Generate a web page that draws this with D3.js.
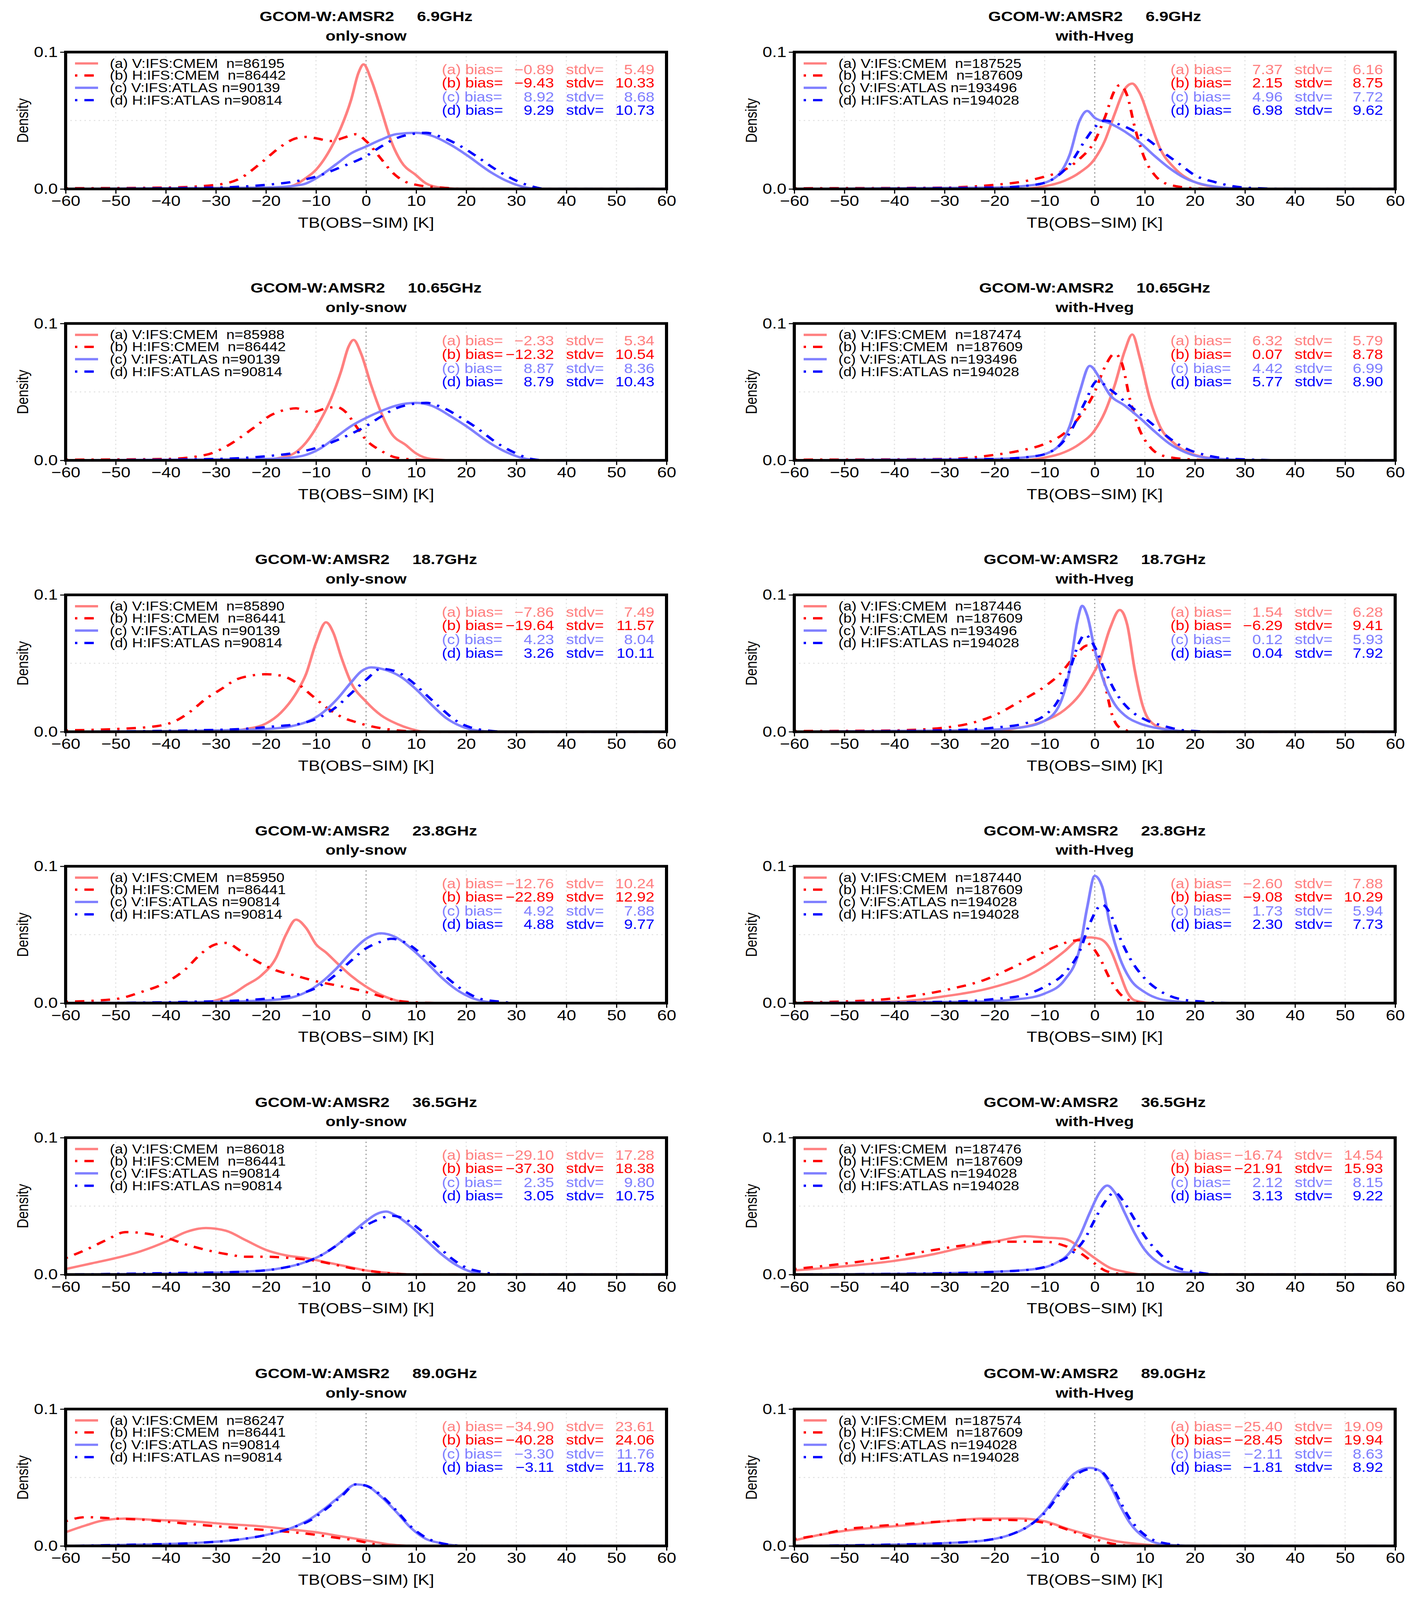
<!DOCTYPE html>
<html><head><meta charset="utf-8">
<script src="https://cdn.jsdelivr.net/npm/d3@7"></script>
<style>html,body{margin:0;padding:0;background:#fff;overflow:hidden}svg{display:block}</style>
</head><body>
<div id="chart"></div>
<script>
// Page size
var svgWidth = 3632, svgHeight = 4793;

// Panel geometry (full-size pixels)
var colLeft = [168, 2033];
var plotW = 1538, plotH = 410;
var rowTop0 = 156, rowStep = 813;

var freqs = ["6.9GHz", "10.65GHz", "18.7GHz", "23.8GHz", "36.5GHz", "89.0GHz"];
var surfaces = ["only-snow", "with-Hveg"];
var seriesNames = ["V:IFS:CMEM ", "H:IFS:CMEM ", "V:IFS:ATLAS", "H:IFS:ATLAS"];
var seriesColors = ["#ff8080", "#ff0000", "#8080ff", "#0000ff"];
var seriesDash = [null, "6,18,24,18", null, "6,18,24,18"];
var xTicks = [-60, -50, -40, -30, -20, -10, 0, 10, 20, 30, 40, 50, 60];

// sample sizes per panel [row][col][series]
var counts = [
  [["86195", "86442", "90139", "90814"], ["187525", "187609", "193496", "194028"]],
  [["85988", "86442", "90139", "90814"], ["187474", "187609", "193496", "194028"]],
  [["85890", "86441", "90139", "90814"], ["187446", "187609", "193496", "194028"]],
  [["85950", "86441", "90814", "90814"], ["187440", "187609", "194028", "194028"]],
  [["86018", "86441", "90814", "90814"], ["187476", "187609", "194028", "194028"]],
  [["86247", "86441", "90814", "90814"], ["187574", "187609", "194028", "194028"]]
];
var biases = [
  [["-0.89", "-9.43", "8.92", "9.29"], ["7.37", "2.15", "4.96", "6.98"]],
  [["-2.33", "-12.32", "8.87", "8.79"], ["6.32", "0.07", "4.42", "5.77"]],
  [["-7.86", "-19.64", "4.23", "3.26"], ["1.54", "-6.29", "0.12", "0.04"]],
  [["-12.76", "-22.89", "4.92", "4.88"], ["-2.60", "-9.08", "1.73", "2.30"]],
  [["-29.10", "-37.30", "2.35", "3.05"], ["-16.74", "-21.91", "2.12", "3.13"]],
  [["-34.90", "-40.28", "-3.30", "-3.11"], ["-25.40", "-28.45", "-2.11", "-1.81"]]
];
var stdvs = [
  [["5.49", "10.33", "8.68", "10.73"], ["6.16", "8.75", "7.72", "9.62"]],
  [["5.34", "10.54", "8.36", "10.43"], ["5.79", "8.78", "6.99", "8.90"]],
  [["7.49", "11.57", "8.04", "10.11"], ["6.28", "9.41", "5.93", "7.92"]],
  [["10.24", "12.92", "7.88", "9.77"], ["7.88", "10.29", "5.94", "7.73"]],
  [["17.28", "18.38", "9.80", "10.75"], ["14.54", "15.93", "8.15", "9.22"]],
  [["23.61", "24.06", "11.76", "11.78"], ["19.09", "19.94", "8.63", "8.92"]]
];

// density curves: [row][col][series] -> [[x, density], ...]
var curves = [
  [ // 6.9 GHz
    [
      [[-60,0],[-20,0],[-15,0.002],[-12,0.008],[-10,0.014],[-7,0.03],[-5,0.045],[-3,0.065],[-1.5,0.085],[-0.5,0.091],[1,0.08],[3,0.058],[5,0.035],[7,0.02],[10,0.01],[12,0.004],[15,0.001],[20,0],[60,0]],
      [[-60,0.0005],[-40,0.001],[-30,0.003],[-25,0.008],[-22,0.016],[-20,0.022],[-17,0.031],[-14,0.037],[-12,0.038],[-10,0.037],[-7,0.035],[-4,0.038],[-2,0.04],[0,0.035],[3,0.022],[5,0.013],[8,0.005],[10,0.003],[15,0.001],[20,0],[60,0]],
      [[-60,0],[-20,0.001],[-15,0.002],[-12,0.004],[-9,0.01],[-6,0.018],[-3,0.026],[0,0.031],[3,0.036],[6,0.04],[10,0.041],[13,0.039],[17,0.032],[20,0.025],[25,0.012],[28,0.006],[32,0.001],[35,0],[60,0]],
      [[-60,0],[-30,0.001],[-20,0.003],[-15,0.005],[-10,0.009],[-5,0.016],[0,0.024],[3,0.031],[6,0.037],[9,0.04],[12,0.041],[15,0.038],[19,0.031],[22,0.024],[26,0.014],[30,0.006],[33,0.002],[36,0],[60,0]]
    ],
    [
      [[-60,0],[-15,0],[-10,0.002],[-6,0.006],[-3,0.012],[0,0.022],[2,0.035],[4,0.055],[6,0.073],[7.5,0.077],[9,0.07],[11,0.05],[13,0.03],[16,0.015],[20,0.005],[25,0.001],[30,0],[60,0]],
      [[-60,0.0005],[-30,0.001],[-20,0.003],[-15,0.005],[-10,0.009],[-6,0.014],[-3,0.022],[0,0.035],[2,0.052],[4,0.072],[5,0.076],[6.5,0.068],[8,0.045],[10,0.022],[12,0.01],[15,0.003],[20,0.0005],[25,0],[60,0]],
      [[-60,0],[-20,0.001],[-12,0.003],[-8,0.008],[-5,0.025],[-3,0.05],[-1.5,0.057],[0,0.052],[3,0.048],[6,0.042],[9,0.034],[12,0.024],[15,0.015],[18,0.008],[22,0.003],[28,0.0005],[35,0],[60,0]],
      [[-60,0],[-20,0.001],[-12,0.003],[-8,0.008],[-5,0.018],[-2,0.035],[0,0.045],[2,0.05],[5,0.047],[8,0.042],[11,0.035],[14,0.026],[17,0.018],[20,0.01],[24,0.005],[30,0.001],[40,0],[60,0]]
    ]
  ],
  [ // 10.65 GHz
    [
      [[-60,0],[-22,0],[-17,0.002],[-14,0.006],[-12,0.013],[-9,0.03],[-7,0.045],[-5,0.065],[-3.5,0.083],[-2.5,0.088],[-1,0.078],[1,0.055],[3,0.035],[5,0.02],[8,0.011],[10,0.005],[13,0.001],[18,0],[60,0]],
      [[-60,0.0005],[-40,0.001],[-32,0.004],[-28,0.01],[-25,0.017],[-22,0.025],[-19,0.033],[-16,0.037],[-14,0.038],[-11,0.035],[-8,0.038],[-6,0.039],[-4,0.035],[-2,0.025],[0,0.015],[3,0.007],[6,0.002],[10,0.0005],[15,0],[60,0]],
      [[-60,0],[-20,0.001],[-15,0.002],[-12,0.004],[-9,0.009],[-6,0.017],[-3,0.025],[0,0.031],[3,0.036],[6,0.04],[10,0.042],[13,0.04],[17,0.032],[20,0.025],[25,0.012],[28,0.006],[32,0.001],[35,0],[60,0]],
      [[-60,0],[-30,0.001],[-20,0.003],[-15,0.005],[-10,0.009],[-5,0.016],[0,0.025],[3,0.032],[6,0.038],[9,0.041],[12,0.042],[15,0.039],[19,0.031],[22,0.024],[26,0.013],[30,0.005],[33,0.001],[36,0],[60,0]]
    ],
    [
      [[-60,0],[-15,0],[-10,0.002],[-6,0.006],[-3,0.012],[0,0.022],[2,0.035],[4,0.055],[6,0.08],[7.5,0.092],[9,0.075],[11,0.045],[13,0.025],[16,0.012],[20,0.004],[25,0.001],[30,0],[60,0]],
      [[-60,0.0005],[-30,0.001],[-20,0.004],[-15,0.007],[-10,0.012],[-6,0.02],[-3,0.032],[0,0.05],[2,0.068],[4,0.078],[5.5,0.07],[7,0.045],[9,0.022],[11,0.01],[14,0.003],[20,0.0005],[25,0],[60,0]],
      [[-60,0],[-20,0.001],[-12,0.003],[-8,0.008],[-5,0.025],[-3,0.05],[-1,0.069],[1,0.06],[3,0.048],[6,0.04],[9,0.031],[12,0.021],[15,0.012],[18,0.006],[22,0.002],[28,0.0005],[35,0],[60,0]],
      [[-60,0],[-20,0.001],[-12,0.003],[-8,0.008],[-5,0.02],[-2,0.042],[0.5,0.058],[3,0.052],[6,0.043],[9,0.034],[12,0.025],[15,0.016],[18,0.009],[22,0.004],[28,0.001],[40,0],[60,0]]
    ]
  ],
  [ // 18.7 GHz
    [
      [[-60,0],[-28,0],[-24,0.002],[-20,0.006],[-17,0.014],[-14,0.028],[-12,0.042],[-10,0.065],[-8,0.08],[-6.5,0.072],[-5,0.055],[-3,0.036],[0,0.022],[3,0.012],[6,0.006],[9,0.002],[12,0],[60,0]],
      [[-60,0.001],[-50,0.002],[-42,0.004],[-38,0.008],[-35,0.015],[-32,0.024],[-29,0.031],[-26,0.038],[-23,0.041],[-20,0.042],[-17,0.041],[-14,0.036],[-11,0.027],[-8,0.018],[-5,0.011],[-2,0.007],[1,0.004],[4,0.002],[8,0.0005],[15,0],[60,0]],
      [[-60,0],[-30,0.001],[-20,0.002],[-15,0.004],[-12,0.007],[-9,0.013],[-6,0.023],[-3,0.036],[-1,0.044],[1,0.047],[4,0.045],[7,0.04],[10,0.031],[13,0.02],[16,0.01],[19,0.004],[22,0.001],[26,0],[60,0]],
      [[-60,0],[-35,0.001],[-25,0.002],[-18,0.004],[-13,0.006],[-9,0.011],[-6,0.018],[-3,0.028],[0,0.038],[3,0.046],[6,0.044],[9,0.037],[12,0.027],[15,0.017],[18,0.008],[21,0.003],[24,0.001],[28,0],[60,0]]
    ],
    [
      [[-60,0],[-20,0.001],[-15,0.003],[-10,0.008],[-6,0.016],[-3,0.027],[-1,0.038],[1,0.052],[3,0.075],[5,0.089],[6.5,0.078],[8,0.045],[9.5,0.02],[11,0.008],[14,0.002],[20,0],[60,0]],
      [[-60,0.0005],[-40,0.001],[-30,0.003],[-25,0.006],[-20,0.012],[-15,0.022],[-10,0.033],[-7,0.042],[-4,0.055],[-1.5,0.063],[0,0.058],[2,0.035],[3.5,0.012],[5,0.003],[8,0],[60,0]],
      [[-60,0],[-25,0.001],[-15,0.003],[-10,0.008],[-7,0.02],[-5,0.045],[-3.5,0.08],[-2.5,0.092],[-1.5,0.085],[0,0.06],[2,0.035],[4,0.02],[6,0.012],[9,0.006],[12,0.003],[16,0.001],[20,0],[60,0]],
      [[-60,0],[-30,0.001],[-20,0.003],[-14,0.006],[-10,0.012],[-7,0.025],[-5,0.045],[-3,0.066],[-2,0.071],[0,0.062],[2,0.045],[4,0.03],[7,0.016],[10,0.009],[14,0.004],[18,0.001],[25,0],[60,0]]
    ]
  ],
  [ // 23.8 GHz
    [
      [[-60,0],[-33,0],[-30,0.002],[-27,0.006],[-24,0.013],[-21,0.02],[-18,0.033],[-16,0.05],[-14,0.061],[-12,0.055],[-10,0.043],[-8,0.037],[-6,0.03],[-3,0.02],[0,0.012],[3,0.006],[6,0.002],[10,0],[60,0]],
      [[-60,0.001],[-50,0.003],[-45,0.008],[-40,0.015],[-36,0.025],[-33,0.036],[-30,0.043],[-28,0.044],[-25,0.038],[-22,0.031],[-18,0.024],[-14,0.02],[-10,0.016],[-6,0.013],[-2,0.01],[2,0.006],[6,0.002],[10,0.0005],[15,0],[60,0]],
      [[-60,0],[-30,0.001],[-20,0.002],[-15,0.004],[-12,0.008],[-9,0.015],[-6,0.025],[-3,0.037],[0,0.047],[3,0.051],[6,0.048],[9,0.04],[12,0.03],[15,0.019],[18,0.01],[21,0.004],[24,0.001],[28,0],[60,0]],
      [[-60,0],[-35,0.001],[-25,0.002],[-18,0.004],[-13,0.007],[-9,0.013],[-6,0.021],[-3,0.031],[0,0.04],[3,0.045],[5,0.047],[8,0.044],[11,0.036],[14,0.026],[17,0.016],[20,0.008],[23,0.003],[27,0.001],[30,0],[60,0]]
    ],
    [
      [[-60,0],[-40,0.001],[-30,0.005],[-22,0.01],[-18,0.014],[-14,0.019],[-10,0.027],[-6,0.038],[-3,0.047],[-1,0.048],[1,0.047],[3,0.04],[5,0.022],[6.5,0.008],[8,0.002],[12,0],[60,0]],
      [[-60,0.0005],[-45,0.002],[-35,0.006],[-28,0.011],[-22,0.017],[-17,0.025],[-12,0.034],[-8,0.041],[-5,0.045],[-3,0.046],[-1,0.043],[1,0.033],[3,0.018],[5,0.007],[7,0.002],[10,0],[60,0]],
      [[-60,0],[-25,0.001],[-15,0.003],[-10,0.007],[-6,0.017],[-3,0.04],[-1.5,0.07],[0,0.093],[1.5,0.085],[3,0.058],[5,0.033],[7,0.018],[10,0.008],[13,0.003],[17,0.001],[22,0],[60,0]],
      [[-60,0],[-30,0.001],[-20,0.003],[-14,0.006],[-10,0.012],[-6,0.022],[-3,0.038],[-1,0.058],[1.5,0.072],[3,0.066],[5,0.048],[7,0.033],[10,0.018],[13,0.009],[17,0.003],[22,0.001],[28,0],[60,0]]
    ]
  ],
  [ // 36.5 GHz
    [
      [[-60,0.004],[-55,0.008],[-50,0.012],[-45,0.017],[-40,0.024],[-36,0.031],[-32,0.034],[-28,0.032],[-24,0.025],[-20,0.018],[-16,0.014],[-12,0.012],[-8,0.009],[-4,0.006],[0,0.003],[5,0.001],[10,0],[60,0]],
      [[-60,0.012],[-56,0.018],[-52,0.025],[-48,0.031],[-44,0.03],[-40,0.027],[-36,0.022],[-32,0.018],[-28,0.015],[-24,0.013],[-20,0.013],[-15,0.012],[-10,0.01],[-6,0.007],[-2,0.004],[2,0.002],[6,0.0005],[10,0],[60,0]],
      [[-60,0],[-35,0.001],[-25,0.002],[-18,0.004],[-13,0.008],[-9,0.014],[-6,0.021],[-3,0.03],[0,0.039],[2,0.044],[4,0.046],[6,0.043],[9,0.035],[12,0.025],[15,0.015],[18,0.007],[21,0.002],[25,0],[60,0]],
      [[-60,0],[-40,0.001],[-25,0.002],[-18,0.004],[-13,0.008],[-9,0.014],[-6,0.021],[-3,0.029],[0,0.036],[3,0.041],[5,0.043],[8,0.04],[11,0.032],[14,0.022],[17,0.012],[20,0.005],[23,0.002],[27,0],[60,0]]
    ],
    [
      [[-60,0.003],[-50,0.006],[-40,0.01],[-32,0.015],[-26,0.02],[-20,0.024],[-16,0.027],[-14,0.028],[-10,0.027],[-6,0.026],[-3,0.02],[0,0.012],[3,0.005],[6,0.002],[10,0],[60,0]],
      [[-60,0.004],[-50,0.008],[-40,0.013],[-32,0.018],[-25,0.022],[-20,0.024],[-15,0.024],[-10,0.024],[-6,0.021],[-3,0.016],[0,0.008],[2,0.003],[5,0.0005],[8,0],[60,0]],
      [[-60,0],[-30,0.001],[-20,0.002],[-12,0.004],[-8,0.008],[-5,0.016],[-3,0.028],[-1,0.045],[1,0.06],[2.5,0.065],[4,0.06],[6,0.045],[8,0.03],[10,0.018],[13,0.008],[16,0.003],[20,0.001],[25,0],[60,0]],
      [[-60,0],[-30,0.001],[-20,0.002],[-12,0.004],[-8,0.008],[-5,0.014],[-2,0.026],[0,0.04],[2,0.053],[4,0.06],[6,0.052],[8,0.04],[10,0.028],[13,0.015],[16,0.006],[20,0.002],[25,0],[60,0]]
    ]
  ],
  [ // 89.0 GHz
    [
      [[-60,0.01],[-56,0.015],[-52,0.019],[-48,0.02],[-42,0.019],[-35,0.018],[-28,0.016],[-20,0.014],[-15,0.012],[-10,0.01],[-5,0.007],[0,0.004],[5,0.001],[10,0],[60,0]],
      [[-60,0.018],[-56,0.021],[-50,0.02],[-44,0.019],[-38,0.017],[-32,0.015],[-25,0.013],[-18,0.011],[-12,0.009],[-6,0.006],[-2,0.004],[2,0.001],[6,0],[60,0]],
      [[-60,0],[-45,0.001],[-35,0.002],[-27,0.004],[-20,0.008],[-15,0.013],[-11,0.02],[-8,0.028],[-5,0.037],[-2,0.045],[0,0.044],[3,0.036],[6,0.025],[9,0.013],[12,0.005],[15,0.002],[20,0],[60,0]],
      [[-60,0],[-45,0.001],[-35,0.002],[-27,0.004],[-20,0.008],[-15,0.013],[-11,0.019],[-8,0.027],[-5,0.036],[-2,0.045],[0,0.044],[3,0.037],[6,0.026],[9,0.014],[12,0.006],[15,0.002],[20,0],[60,0]]
    ],
    [
      [[-60,0.004],[-55,0.008],[-50,0.011],[-45,0.013],[-38,0.015],[-30,0.018],[-22,0.02],[-15,0.02],[-10,0.018],[-5,0.012],[0,0.007],[5,0.003],[10,0.001],[15,0],[60,0]],
      [[-60,0.005],[-55,0.008],[-50,0.012],[-45,0.014],[-38,0.016],[-30,0.018],[-25,0.019],[-18,0.019],[-12,0.018],[-8,0.015],[-4,0.01],[0,0.005],[3,0.002],[8,0],[60,0]],
      [[-60,0],[-40,0.001],[-30,0.002],[-22,0.004],[-17,0.008],[-13,0.015],[-10,0.025],[-7,0.04],[-4,0.053],[-1,0.057],[1,0.055],[3,0.045],[5,0.03],[7,0.017],[10,0.006],[14,0.001],[20,0],[60,0]],
      [[-60,0],[-40,0.001],[-30,0.002],[-22,0.004],[-17,0.008],[-13,0.015],[-10,0.024],[-7,0.038],[-4,0.051],[-1,0.056],[1,0.055],[3,0.047],[5,0.033],[7,0.02],[10,0.008],[14,0.002],[20,0],[60,0]]
    ]
  ]
];

var font = "'Liberation Sans Narrow', 'Liberation Sans', Arial, sans-serif";

// fit the whole figure into the window whatever its real height is
var svg = d3.select("#chart")
    .append("svg")
    .attr("viewBox", `0 0 ${svgWidth} ${svgHeight}`)
    .attr("preserveAspectRatio", "none")
    .style("width", "100vw")
    .style("height", "100vh")
    .style("background", "#fff");

var x = d3.scaleLinear().domain([-60, 60]).range([0, plotW]);
var y = d3.scaleLinear().domain([0, 0.1]).range([plotH, 0]);

var line = d3.line()
    .x(d => x(d[0]))
    .y(d => y(d[1]))
    .curve(d3.curveMonotoneX);

freqs.forEach(function (freq, r) {
  surfaces.forEach(function (surf, c) {
    var g = svg.append("g")
        .attr("transform", `translate(${colLeft[c]}, ${rowTop0 + r * rowStep})`);

    // titles
    g.append("text")
        .attr("x", plotW / 2).attr("y", -107).attr("dy", "0.35em")
        .attr("text-anchor", "middle")
        .style("font-family", "'Liberation Sans', Arial, sans-serif")
        .style("font-weight", "bold").style("font-size", "42px")
        .style("white-space", "pre")
        .text("GCOM-W:AMSR2     " + freq);
    g.append("text")
        .attr("x", plotW / 2).attr("y", -49).attr("dy", "0.35em")
        .attr("text-anchor", "middle")
        .style("font-family", "'Liberation Sans', Arial, sans-serif")
        .style("font-weight", "bold").style("font-size", "42px")
        .text(surf);

    // grid
    g.selectAll(".vgrid").data(xTicks.slice(1, -1)).enter().append("line")
        .attr("x1", d => x(d)).attr("x2", d => x(d))
        .attr("y1", 0).attr("y2", plotH)
        .attr("stroke", d => d === 0 ? "#999" : "#e2e2e2")
        .attr("stroke-width", 3)
        .attr("stroke-dasharray", "4,8");
    g.append("line")
        .attr("x1", 0).attr("x2", plotW)
        .attr("y1", y(0.05)).attr("y2", y(0.05))
        .attr("stroke", "#e2e2e2").attr("stroke-width", 3)
        .attr("stroke-dasharray", "4,8");

    // axes
    var xAxis = d3.axisBottom(x).tickValues(xTicks).tickSize(14).tickPadding(6);
    var gx = g.append("g").attr("transform", `translate(0, ${plotH})`).call(xAxis);
    gx.select(".domain").remove();
    gx.selectAll("line").attr("stroke-width", 3);
    gx.selectAll("text").style("font-family", font).style("font-size", "44px").attr("fill", "#000");

    var yAxis = d3.axisLeft(y).tickValues([0, 0.1]).tickFormat(d3.format(".1f")).tickSize(14).tickPadding(6);
    var gy = g.append("g").call(yAxis);
    gy.select(".domain").remove();
    gy.selectAll("line").attr("stroke-width", 3);
    gy.selectAll("text").style("font-family", font).style("font-size", "44px").attr("fill", "#000");

    g.append("text")
        .attr("transform", `translate(${-110}, ${plotH / 2}) rotate(-90)`)
        .attr("text-anchor", "middle").attr("dy", "0.35em")
        .style("font-family", "'Liberation Sans', Arial, sans-serif")
        .style("font-size", "40px")
        .text("Density");
    g.append("text")
        .attr("x", plotW / 2).attr("y", plotH + 101).attr("dy", "0.35em")
        .attr("text-anchor", "middle")
        .style("font-family", font).style("font-size", "44px")
        .text("TB(OBS\u2212SIM) [K]");

    // curves
    curves[r][c].forEach(function (pts, i) {
      g.append("path")
          .datum(pts)
          .attr("d", line)
          .attr("fill", "none")
          .attr("stroke", seriesColors[i])
          .attr("stroke-width", 7)
          .attr("stroke-dasharray", seriesDash[i]);
    });

    // legend + stats
    var legY = [34, 70, 107, 144];
    var statY = [52, 92, 134, 174];
    var tags = ["(a)", "(b)", "(c)", "(d)"];
    seriesNames.forEach(function (nm, i) {
      g.append("line")
          .attr("x1", 24).attr("x2", 83)
          .attr("y1", legY[i]).attr("y2", legY[i])
          .attr("stroke", seriesColors[i]).attr("stroke-width", 7)
          .attr("stroke-dasharray", seriesDash[i]);
      g.append("text")
          .attr("x", 113).attr("y", legY[i]).attr("dy", "0.35em")
          .style("font-family", font).style("font-size", "38px")
          .style("white-space", "pre")
          .text(tags[i] + " " + nm + " n=" + counts[r][c][i]);

      var st = g.append("g").attr("fill", seriesColors[i])
          .style("font-family", font).style("font-size", "40px");
      st.append("text").attr("x", 963).attr("y", statY[i]).attr("dy", "0.35em")
          .text(tags[i] + " bias=");
      st.append("text").attr("x", 1250).attr("y", statY[i]).attr("dy", "0.35em")
          .attr("text-anchor", "end")
          .text(biases[r][c][i].replace("-", "\u2212"));
      st.append("text").attr("x", 1281).attr("y", statY[i]).attr("dy", "0.35em")
          .text("stdv=");
      st.append("text").attr("x", 1507).attr("y", statY[i]).attr("dy", "0.35em")
          .attr("text-anchor", "end")
          .text(stdvs[r][c][i]);
    });

    // frame
    g.append("rect")
        .attr("width", plotW).attr("height", plotH)
        .attr("fill", "none").attr("stroke", "#000").attr("stroke-width", 8);
  });
});
</script>
</body></html>
